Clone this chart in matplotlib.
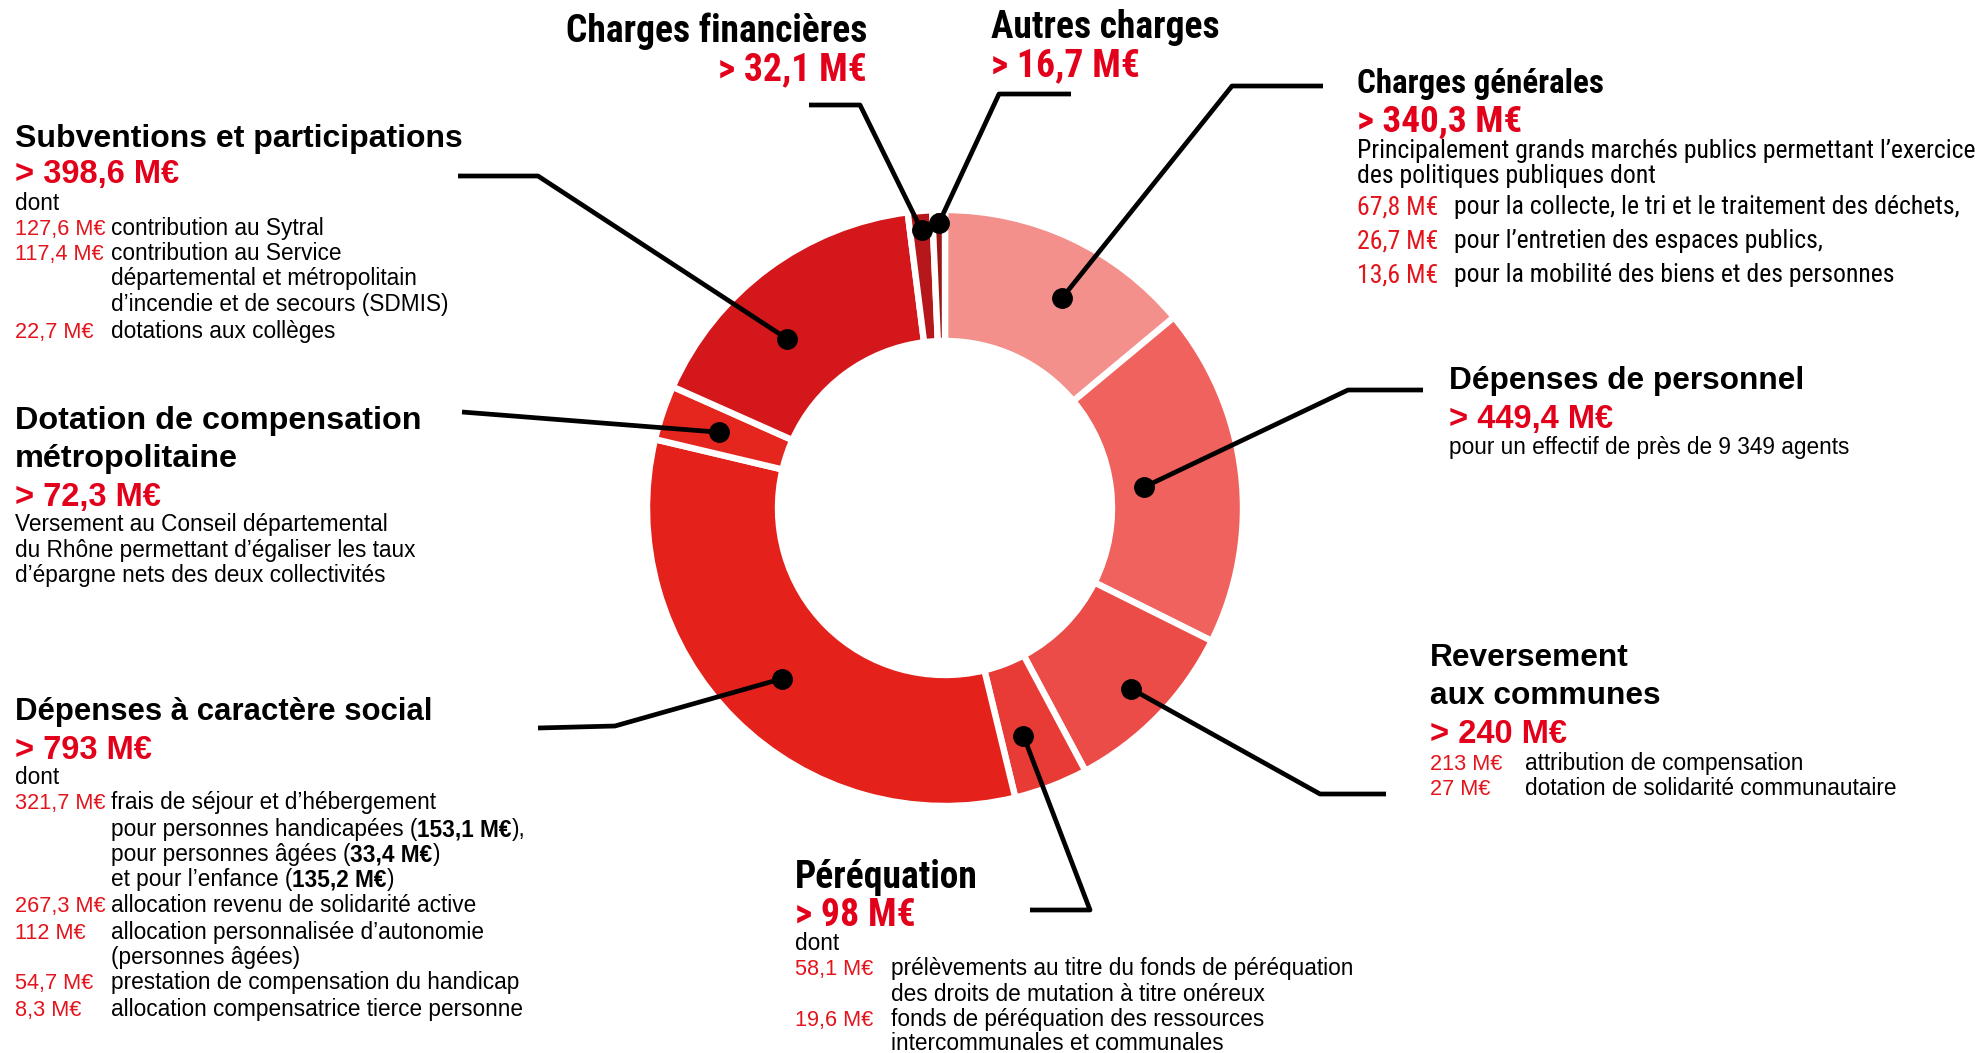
import numpy as np
import matplotlib.pyplot as plt
from matplotlib import font_manager as fm

W, H = 1975, 1053

categories = ['Charges générales', 'Dépenses de personnel', 'Reversement aux communes',
              'Péréquation', 'Dépenses à caractère social', 'Dotation de compensation métropolitaine',
              'Subventions et participations', 'Charges financières', 'Autres charges']
values = [340.3, 449.4, 240.0, 98.0, 793.0, 72.3, 398.6, 32.1, 16.7]
colors = ['#F3908B', '#EF625D', '#EC4C47', '#E93B35', '#E4221B',
          '#E4261E', '#D3171A', '#B5171A', '#9C1616']

RED = '#E2001A'
LRED = '#E3141B'
BLACK = '#000000'
REG = 'Liberation Sans'
names = {f.name for f in fm.fontManager.ttflist}
NARROW, nscale = REG, 0.84
for cand in ['Roboto Condensed', 'Liberation Sans Narrow', 'Open Sans Condensed', 'Arial Narrow']:
    if cand in names:
        NARROW, nscale = cand, 1.0
        break

TITLE, VAL, BODY, SUB = 22.8, 23.5, 16.3, 15.6
NTITLE, NVAL = 27 * nscale, 27.2 * nscale   # condensed headings

fig = plt.figure(figsize=(W / 100, H / 100), dpi=100)
ax = fig.add_axes([0, 0, 1, 1])

cx, cy = 945, 508
wedges, _ = ax.pie(values, colors=colors, center=(cx, cy), radius=298,
                   startangle=-90, counterclock=True,
                   wedgeprops=dict(width=131, edgecolor='white', linewidth=4.6))
ax.set_xlim(0, W)
ax.set_ylim(H, 0)
ax.set_aspect('equal')
ax.axis('off')

# leader lines: dot position inside each slice (fraction of the arc, radius),
# then elbow / end points of the line
dot_pos = [(0.58, 240), (0.51, 200), (0.5, 259), (0.63, 241), (0.49, 236),
           (0.49, 238), (0.39, 232), (0.5, 279), (0.5, 285)]
paths = [
    [(1232, 86), (1323, 86)],
    [(1348, 390), (1423, 390)],
    [(1320, 794), (1386, 794)],
    [(1090, 910), (1030, 910)],
    [(615, 726), (538, 728)],
    [(462, 412)],
    [(538, 176), (458, 176)],
    [(860, 105), (809, 105)],
    [(999, 94), (1071, 94)],
]
for w, (f, r), p in zip(wedges, dot_pos, paths):
    th = np.deg2rad(w.theta1 + f * (w.theta2 - w.theta1))
    x0, y0 = cx + r * np.cos(th), cy + r * np.sin(th)
    xs = [x0] + [q[0] for q in p]
    ys = [y0] + [q[1] for q in p]
    ax.plot(xs, ys, color='black', lw=3.4, solid_capstyle='butt', zorder=3)
    ax.plot(x0, y0, 'o', color='black', ms=14, zorder=4)


def txt(x, yc, s, size=BODY, color=BLACK, bold=False, fam=REG, ha='left'):
    px = size * 100 / 72
    return ax.text(x, yc + 0.36 * px, s, fontsize=size, color=color,
                   fontweight='bold' if bold else 'normal', family=fam,
                   ha=ha, va='baseline')


def rich(x, yc, parts, size=BODY):
    rend = fig.canvas.get_renderer()
    for s, bold in parts:
        t = txt(x, yc, s, size=size, bold=bold)
        x += t.get_window_extent(rend).width


def rows(xv, xd, items, size=BODY, fam=REG, vsize=SUB):
    for yc, v, d in items:
        if v:
            txt(xv, yc, v, size=vsize, color=LRED, fam=fam)
        txt(xd, yc, d, size=size, fam=fam)


# Subventions et participations
txt(15, 135, 'Subventions et participations', TITLE + 0.2, bold=True)
txt(15, 171, '> 398,6 M€', VAL, RED, True)
txt(15, 202, 'dont')
rows(15, 111, [(227, '127,6 M€', 'contribution au Sytral'),
               (252, '117,4 M€', 'contribution au Service'),
               (277, '', 'départemental et métropolitain'),
               (303, '', 'd’incendie et de secours (SDMIS)'),
               (330, '22,7 M€', 'dotations aux collèges')])

# Dotation de compensation métropolitaine
txt(15, 417, 'Dotation de compensation', TITLE + 0.5, bold=True)
txt(15, 455, 'métropolitaine', TITLE + 0.5, bold=True)
txt(15, 494, '> 72,3 M€', VAL, RED, True)
rows(15, 15, [(523, '', 'Versement au Conseil départemental'),
              (549, '', 'du Rhône permettant d’égaliser les taux'),
              (574, '', 'd’épargne nets des deux collectivités')])

# Dépenses à caractère social
txt(15, 709, 'Dépenses à caractère social', TITLE - 0.4, bold=True)
txt(15, 747, '> 793 M€', VAL, RED, True)
txt(15, 776, 'dont')
rows(15, 111, [(801, '321,7 M€', 'frais de séjour et d’hébergement')])
rich(111, 828, [('pour personnes handicapées (', False), ('153,1 M€', True), ('),', False)])
rich(111, 853, [('pour personnes âgées (', False), ('33,4 M€', True), (')', False)])
rich(111, 878, [('et pour l’enfance (', False), ('135,2 M€', True), (')', False)])
rows(15, 111, [(904, '267,3 M€', 'allocation revenu de solidarité active'),
               (931, '112 M€', 'allocation personnalisée d’autonomie'),
               (956, '', '(personnes âgées)'),
               (981, '54,7 M€', 'prestation de compensation du handicap'),
               (1008, '8,3 M€', 'allocation compensatrice tierce personne')])

# Charges financières / Autres charges
txt(867, 28, 'Charges financières', NTITLE, bold=True, fam=NARROW, ha='right')
txt(867, 67, '> 32,1 M€', NVAL, RED, True, fam=NARROW, ha='right')
txt(991, 25, 'Autres charges', NTITLE, bold=True, fam=NARROW)
txt(991, 63, '> 16,7 M€', NVAL, RED, True, fam=NARROW)

# Charges générales
txt(1357, 81, 'Charges générales', 23.8 * nscale, bold=True, fam=NARROW)
txt(1357, 118, '> 340,3 M€', 26.7 * nscale, RED, True, fam=NARROW)
gsize = BODY * nscale * 1.14
rows(1357, 1357, [(149, '', 'Principalement grands marchés publics permettant l’exercice'),
                  (174, '', 'des politiques publiques dont')], gsize, NARROW, gsize)
rows(1357, 1454, [(205, '67,8 M€', 'pour la collecte, le tri et le traitement des déchets,'),
                  (239, '26,7 M€', 'pour l’entretien des espaces publics,'),
                  (273, '13,6 M€', 'pour la mobilité des biens et des personnes')],
     gsize, NARROW, gsize)

# Dépenses de personnel
txt(1449, 378, 'Dépenses de personnel', TITLE, bold=True)
txt(1449, 416, '> 449,4 M€', VAL, RED, True)
txt(1449, 446, 'pour un effectif de près de 9 349 agents')

# Reversement aux communes
txt(1430, 655, 'Reversement', TITLE, bold=True)
txt(1430, 693, 'aux communes', TITLE, bold=True)
txt(1430, 731, '> 240 M€', VAL, RED, True)
rows(1430, 1525, [(762, '213 M€', 'attribution de compensation'),
                  (787, '27 M€', 'dotation de solidarité communautaire')])

# Péréquation
txt(795, 875, 'Péréquation', NTITLE, bold=True, fam=NARROW)
txt(795, 912, '> 98 M€', NVAL, RED, True, fam=NARROW)
txt(795, 942, 'dont')
rows(795, 891, [(967, '58,1 M€', 'prélèvements au titre du fonds de péréquation'),
                (993, '', 'des droits de mutation à titre onéreux'),
                (1018, '19,6 M€', 'fonds de péréquation des ressources'),
                (1042, '', 'intercommunales et communales')])

fig.savefig('out.png', dpi=100)
